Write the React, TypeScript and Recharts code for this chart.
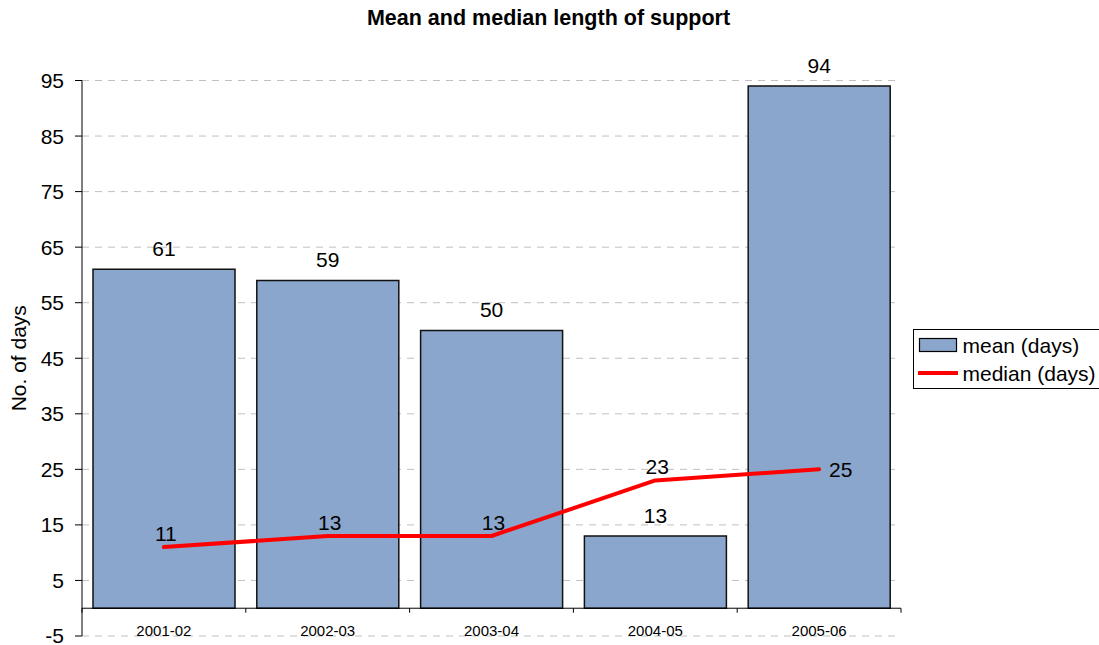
import React from 'react';
import {
  ComposedChart,
  Bar,
  Line,
  XAxis,
  YAxis,
  CartesianGrid,
  LabelList,
  ReferenceLine,
} from 'recharts';

const TITLE = 'Mean and median length of support';
const Y_LABEL = 'No. of days';
const PERIODS = ['2001-02', '2002-03', '2003-04', '2004-05', '2005-06'];
const MEAN_DAYS = [61, 59, 50, 13, 94];
const MEDIAN_DAYS = [11, 13, 13, 23, 25];
const Y_TICKS = [-5, 5, 15, 25, 35, 45, 55, 65, 75, 85, 95];
const SERIES_NAMES = ['mean (days)', 'median (days)'];

const BAR_COLOR = '#8AA6CC';
const LINE_COLOR = '#FF0000';
const FONT = '"Liberation Sans", Arial, Helvetica, sans-serif';

const data = PERIODS.map((p, i) => ({
  period: p,
  mean: MEAN_DAYS[i],
  median: MEDIAN_DAYS[i],
}));

const XTick = (props: any) => {
  const { x, y, payload } = props;
  return (
    <text
      x={x}
      y={y - 0.5}
      textAnchor="middle"
      fontSize={15}
      fontFamily={FONT}
      fill="#000"
    >
      {payload.value}
    </text>
  );
};

const ZeroAxis = (props: any) => {
  const { x1, y1, x2, y2 } = props;
  const n = PERIODS.length;
  const step = (x2 - x1) / n;
  const ticks = [];
  for (let i = 0; i <= n; i++) {
    const tx = x1 + i * step;
    ticks.push(
      <line key={i} x1={tx} y1={y1} x2={tx} y2={y1 + 4.5} stroke="#000" strokeWidth={1} />
    );
  }
  return (
    <g>
      <line x1={x1} y1={y1} x2={x2} y2={y2} stroke="#000" strokeWidth={1} />
      {ticks}
    </g>
  );
};

const YLabel = (props: any) => {
  const { viewBox } = props;
  const cy = viewBox.y + viewBox.height / 2;
  const cx = 18;
  return (
    <text
      x={cx}
      y={cy}
      transform={`rotate(-90, ${cx}, ${cy})`}
      textAnchor="middle"
      dominantBaseline="central"
      fontSize={21}
      fontFamily={FONT}
      fill="#000"
    >
      {Y_LABEL}
    </text>
  );
};

const BarLabel = (props: any) => {
  const { x, y, width, value } = props;
  return (
    <text
      x={x + width / 2}
      y={y - 13}
      textAnchor="middle"
      fontSize={21}
      fontFamily={FONT}
      fill="#000"
    >
      {value}
    </text>
  );
};

const LineLabel = (props: any) => {
  const { x, y, value, index } = props;
  if (index === PERIODS.length - 1) {
    return (
      <text
        x={x + 10}
        y={y + 7.5}
        textAnchor="start"
        fontSize={21}
        fontFamily={FONT}
        fill="#000"
      >
        {value}
      </text>
    );
  }
  return (
    <text
      x={x + 2}
      y={y - 6.5}
      textAnchor="middle"
      fontSize={21}
      fontFamily={FONT}
      fill="#000"
    >
      {value}
    </text>
  );
};

export default function App() {
  return (
    <div
      style={{
        position: 'absolute',
        left: 0,
        top: 0,
        width: 1099,
        height: 645,
        overflow: 'hidden',
        background: '#fff',
      }}
    >
      <ComposedChart
        width={1099}
        height={645}
        data={data}
        margin={{ top: 80.5, right: 198, bottom: 0, left: 0 }}
        barCategoryGap={11}
      >
        <CartesianGrid
          vertical={false}
          stroke="#c0c0c0"
          strokeDasharray="7 6"
        />
        <XAxis
          dataKey="period"
          axisLine={false}
          tickLine={false}
          tickSize={0}
          tickMargin={0}
          height={9}
          interval={0}
          tick={<XTick />}
        />
        <YAxis
          width={82}
          domain={[-5, 95]}
          ticks={Y_TICKS}
          interval={0}
          allowDataOverflow
          tickSize={7}
          tickMargin={11}
          axisLine={{ stroke: '#000', strokeWidth: 1 }}
          tickLine={{ stroke: '#000', strokeWidth: 1 }}
          tick={{ fill: '#000', fontSize: 21, fontFamily: FONT }}
          label={<YLabel />}
        />
        <Bar
          dataKey="mean"
          name={SERIES_NAMES[0]}
          fill={BAR_COLOR}
          stroke="#111"
          strokeWidth={1.5}
          isAnimationActive={false}
        >
          <LabelList dataKey="mean" content={<BarLabel />} />
        </Bar>
        <ReferenceLine y={0} shape={(p: any) => <ZeroAxis {...p} />} />
        <Line
          dataKey="median"
          name={SERIES_NAMES[1]}
          stroke={LINE_COLOR}
          strokeWidth={4}
          strokeLinecap="round"
          strokeLinejoin="round"
          dot={false}
          activeDot={false}
          isAnimationActive={false}
        >
          <LabelList dataKey="median" content={<LineLabel />} />
        </Line>
      </ComposedChart>
      <svg
        width={1099}
        height={645}
        style={{ position: 'absolute', left: 0, top: 0, pointerEvents: 'none' }}
      >
        <text
          x={548.5}
          y={25}
          textAnchor="middle"
          fontSize={21.5}
          fontWeight="bold"
          fontFamily={FONT}
          fill="#000"
        >
          {TITLE}
        </text>
        <rect x={913.5} y={329.5} width={200} height={59} fill="#fff" stroke="#000" strokeWidth={1} />
        <rect x={919.5} y={338.5} width={37} height={13} fill={BAR_COLOR} stroke="#000" strokeWidth={1.2} />
        <text x={962.5} y={352.5} fontSize={21} fontFamily={FONT} fill="#000">
          {SERIES_NAMES[0]}
        </text>
        <line x1={918} y1={373} x2={958} y2={373} stroke={LINE_COLOR} strokeWidth={4} />
        <text x={962.5} y={380.5} fontSize={21} fontFamily={FONT} fill="#000">
          {SERIES_NAMES[1]}
        </text>
      </svg>
    </div>
  );
}
